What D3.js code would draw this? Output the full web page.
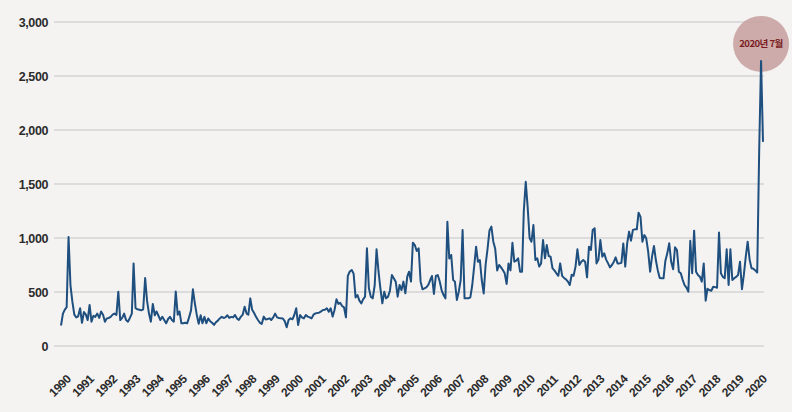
<!DOCTYPE html>
<html>
<head>
<meta charset="utf-8">
<script src="https://cdn.jsdelivr.net/npm/d3@7"></script>
<style>
  body { margin: 0; background: #f4f3f2; }
  svg { display: block; }
  text { font-family: "Liberation Sans", Arial, sans-serif; }
</style>
</head>
<body>
<div id="chart"></div>
<script>
// monthly values, Jan 1990 .. Aug 2020 (one row per year)
const counts = [
  190, 300, 335, 360, 1010, 560, 410, 290, 265, 275, 350, 215,   // 1990
  315, 290, 240, 380, 225, 280, 270, 300, 260, 320, 290, 225,    // 1991
  256, 260, 270, 290, 300, 287, 503, 240, 260, 300, 240, 225,    // 1992
  260, 300, 765, 350, 340, 335, 330, 340, 630, 420, 300, 225,    // 1993
  390, 285, 320, 280, 240, 270, 240, 210, 250, 270, 240, 225,    // 1994
  505, 290, 320, 210, 210, 215, 210, 265, 330, 525, 395, 290,    // 1995
  205, 285, 210, 270, 210, 255, 230, 215, 195, 220, 235, 255,    // 1996
  270, 260, 265, 285, 260, 270, 265, 287, 255, 241, 270, 290,    // 1997
  364, 300, 290, 441, 335, 305, 270, 241, 215, 205, 272, 245,    // 1998
  250, 256, 241, 265, 300, 265, 260, 256, 255, 230, 173, 241,    // 1999
  256, 247, 287, 349, 195, 287, 265, 256, 287, 272, 265, 256,    // 2000
  290, 302, 305, 309, 320, 333, 335, 349, 318, 349, 272, 333,    // 2001
  432, 390, 400, 370, 358, 265, 650, 690, 704, 670, 450, 472,    // 2002
  420, 395, 432, 457, 905, 534, 457, 441, 560, 895, 690, 534,    // 2003
  395, 503, 441, 457, 512, 657, 627, 596, 457, 565, 518, 596,    // 2004
  488, 642, 688, 596, 957, 935, 880, 905, 596, 525, 534, 543,    // 2005
  565, 611, 648, 482, 648, 657, 600, 518, 472, 441, 1151, 810,   // 2006
  843, 611, 596, 426, 503, 611, 1074, 441, 441, 441, 450, 560,   // 2007
  735, 920, 781, 796, 611, 487, 750, 900, 1070, 1105, 966, 900,  // 2008
  700, 750, 730, 704, 673, 574, 765, 700, 955, 781, 790, 812,    // 2009
  688, 688, 1250, 1520, 1290, 1000, 966, 1120, 796, 812, 735, 765, // 2010
  981, 812, 935, 833, 827, 719, 700, 673, 650, 765, 650, 630,    // 2011
  617, 596, 565, 660, 650, 735, 895, 750, 781, 796, 781, 636,    // 2012
  920, 890, 1074, 1090, 765, 800, 981, 827, 858, 800, 765, 728,  // 2013
  750, 781, 821, 765, 765, 770, 950, 735, 950, 1059, 975, 1075,  // 2014
  1080, 1080, 1234, 1195, 966, 1027, 997, 873, 688, 827, 926, 796, // 2015
  700, 630, 627, 627, 790, 860, 951, 780, 710, 914, 889, 688,    // 2016
  673, 611, 565, 540, 503, 975, 673, 1068, 688, 658, 642, 596,   // 2017
  765, 420, 530, 518, 512, 549, 545, 540, 1050, 673, 640, 627,   // 2018
  895, 565, 895, 611, 627, 640, 658, 781, 525, 658, 827, 966,    // 2019
  800, 720, 715, 700, 680, 1800, 2640, 1890                      // 2020
];
const startYear = 1990;
const years = d3.range(1990, 2021);
const yTicks = [0, 500, 1000, 1500, 2000, 2500, 3000];
const peakLabel = "2020년 7월";

const width = 792, height = 412;

const data = counts.map((v, i) => ({ date: new Date(startYear, i, 1), value: v }));

const svg = d3.select("#chart").append("svg")
  .attr("width", width).attr("height", height);

const x = d3.scaleTime()
  .domain(d3.extent(data, d => d.date))
  .range([61, 763]);

const y = d3.scaleLinear()
  .domain([0, 3000])
  .range([346, 22]);

// year labels sit on their own evenly spaced scale
const xLabel = d3.scaleLinear()
  .domain([1990, 2020])
  .range([71, 767]);

// grid
svg.append("g")
  .selectAll("line")
  .data(yTicks)
  .join("line")
  .attr("x1", 54).attr("x2", 764)
  .attr("y1", d => y(d)).attr("y2", d => y(d))
  .attr("stroke", "#d6d5d4")
  .attr("stroke-width", 1.6);

// y axis labels
const yAxis = g => g
  .attr("transform", "translate(48,0)")
  .call(d3.axisLeft(y).tickValues(yTicks).tickSize(0).tickPadding(0).tickFormat(d3.format(",")))
  .call(g => g.select(".domain").remove())
  .call(g => g.selectAll("text")
    .attr("fill", "#2b2b2b")
    .style("font-size", "12.5px")
    .style("font-weight", "bold")
    .style("letter-spacing", "-0.4px")
    .attr("dy", "0.35em"));
svg.append("g").call(yAxis);

// x axis labels, rotated
const xAxis = g => g
  .attr("transform", "translate(0,380)")
  .call(d3.axisBottom(xLabel).tickValues(years).tickSize(0).tickPadding(0).tickFormat(d3.format("d")))
  .call(g => g.select(".domain").remove())
  .call(g => g.selectAll("text")
    .attr("fill", "#2b2b2b")
    .style("font-size", "12px")
    .style("font-weight", "bold")
    .style("letter-spacing", "-0.5px")
    .attr("text-anchor", "end")
    .attr("dy", 0)
    .attr("y", 0)
    .attr("transform", "rotate(-45)"));
svg.append("g").call(xAxis);

// highlight circle at the peak
const peak = data.reduce((a, b) => (b.value > a.value ? b : a));
svg.append("circle")
  .attr("cx", x(peak.date))
  .attr("cy", y(peak.value) - 17)
  .attr("r", 28)
  .attr("fill", "#c9a3a2")
  .attr("opacity", 0.9);

// line
const line = d3.line()
  .x(d => x(d.date))
  .y(d => y(d.value));

svg.append("path")
  .datum(data)
  .attr("fill", "none")
  .attr("stroke", "#1f4f7e")
  .attr("stroke-width", 2)
  .attr("stroke-linejoin", "round")
  .attr("d", line);

svg.append("text")
  .attr("x", x(peak.date))
  .attr("y", y(peak.value) - 17)
  .attr("dy", "0.35em")
  .attr("text-anchor", "middle")
  .attr("fill", "#7b1d1f")
  .style("font-family", "'Noto Sans CJK KR', sans-serif")
  .style("font-size", "9.5px")
  .style("font-weight", "bold")
  .style("letter-spacing", "-0.5px")
  .text(peakLabel);
</script>
</body>
</html>
